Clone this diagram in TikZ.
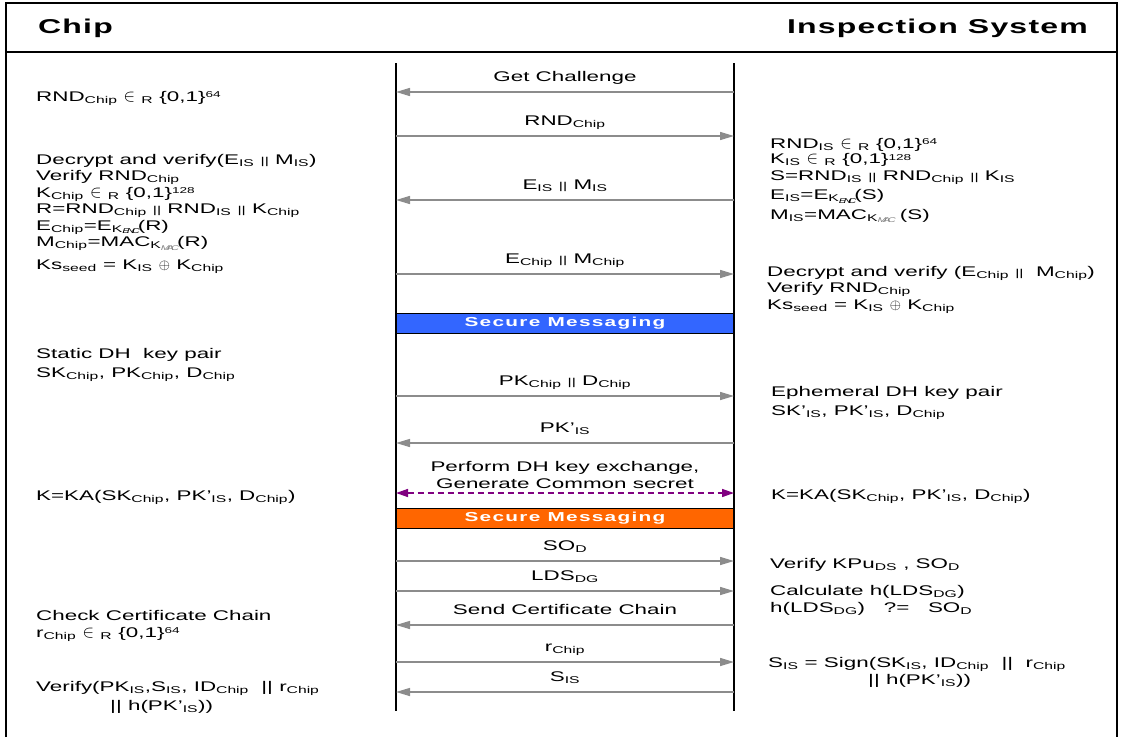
\documentclass[tikz,border=0pt]{standalone}
\usepackage{fontspec}
\setmainfont{Liberation Sans}[FakeStretch=1.6]
\newfontfamily\barfont{Liberation Sans}[FakeStretch=1.6,LetterSpace=10]
\newfontfamily\headfont{Liberation Sans}[FakeStretch=1.6,LetterSpace=6]
\usetikzlibrary{arrows.meta}

\definecolor{msggray}{RGB}{140,140,140}
\definecolor{smblue}{RGB}{51,102,255}
\definecolor{smorange}{RGB}{255,102,0}
\definecolor{dhpurple}{RGB}{128,0,128}

\newcommand{\lo}[1]{\textsubscript{#1}}
\newcommand{\hi}[1]{\raisebox{3.5pt}{\fontsize{8.5}{9}\selectfont #1}}
\newcommand{\cat}{{\fontsize{10}{10}\selectfont ||}}
\newcommand{\inR}{{\fontsize{16}{16}\selectfont$\in$}~\lo{R}}

\tikzset{
  lifeline/.style={line width=2.5pt},
  msg/.style={draw=msggray, line width=1.5pt, -{Triangle[length=14pt,width=8pt]}},
  dh/.style={draw=dhpurple, line width=1.5pt, dashed, dash pattern=on 6pt off 4pt,
    {Triangle[length=12pt,width=8pt]}-{Triangle[length=12pt,width=8pt]}},
  lbl/.style={midway, above=5pt, inner sep=1pt, text height=10pt, text depth=4pt},
  note/.style={anchor=base west, align=left, inner sep=0pt},
  smbar/.style={draw=black, line width=1pt, minimum width=338pt, minimum height=20pt,
    inner sep=0pt, text=white, font={\barfont\fontsize{13}{15}\selectfont\bfseries}},
  header/.style={font={\headfont\fontsize{20}{22}\selectfont\bfseries}, inner sep=0pt}
}

\begin{document}
\begin{tikzpicture}[x=1pt, y=-1pt, font=\fontsize{14}{16.5}\selectfont]
  \useasboundingbox (0,0) rectangle (1123,737);

  % Frame and header
  \draw[line width=2pt] (6,737) -- (6,3) -- (1117,3) -- (1117,737);
  \draw[line width=2pt] (6,52) -- (1117,52);
  \node[header, anchor=west] (chiphd) at (38,28) {Chip};
  \node[header, anchor=east] (ishd) at (1088,28) {Inspection System};

  % Secure messaging bars
  \node[smbar, fill=smblue] (sm1) at (565,323) {Secure Messaging};
  \node[smbar, fill=smorange] (sm2) at (565,518.5) {Secure Messaging};

  % Lifelines
  \coordinate (chiptop) at (396,63);
  \coordinate (chipbot) at (396,711);
  \coordinate (istop) at (734,63);
  \coordinate (isbot) at (734,711);
  \draw[lifeline] (chiptop) -- (chipbot);
  \draw[lifeline] (istop) -- (isbot);

  % Message ends on the lifelines
  \foreach \n/\y in {1/92,2/136,3/200,4/274,5/396,6/443,7/493,8/561,9/591,10/625,11/662,12/692}{
    \coordinate (c\n) at (396,\y);
    \coordinate (i\n) at (734,\y);
  }

  % Messages
  \draw[msg] (i1) -- node[lbl] {Get Challenge} (c1);
  \draw[msg] (c2) -- node[lbl] {RND\lo{Chip}} (i2);
  \draw[msg] (i3) -- node[lbl] {E\lo{IS} \cat{} M\lo{IS}} (c3);
  \draw[msg] (c4) -- node[lbl] {E\lo{Chip} \cat{} M\lo{Chip}} (i4);
  \draw[msg] (c5) -- node[lbl] {PK\lo{Chip} \cat{} D\lo{Chip}} (i5);
  \draw[msg] (i6) -- node[lbl] {PK'\lo{IS}} (c6);
  \draw[dh] (c7) -- node[midway, above=4pt, inner sep=0pt, align=center]
    {Perform DH key exchange,\\Generate Common secret} (i7);
  \draw[msg] (c8) -- node[lbl] {SO\lo{D}} (i8);
  \draw[msg] (c9) -- node[lbl] {LDS\lo{DG}} (i9);
  \draw[msg] (i10) -- node[lbl] {Send Certificate Chain} (c10);
  \draw[msg] (c11) -- node[lbl] {r\lo{Chip}} (i11);
  \draw[msg] (i12) -- node[lbl] {S\lo{IS}} (c12);

  % Chip side (multi-line notes sit on their last line)
  \node[note] (chipa) at (36,101) {RND\lo{Chip} \inR{} \{0,1\}\hi{64}};
  \node[note] (chipb) at (36,269) {Decrypt and verify(E\lo{IS} \cat{} M\lo{IS})\\
    Verify RND\lo{Chip}\\
    K\lo{Chip} \inR{} \{0,1\}\hi{128}\\
    R=RND\lo{Chip} \cat{} RND\lo{IS} \cat{} K\lo{Chip}\\
    E\lo{Chip}=E\lo{K$_{\mathit{ENC}}$}(R)\\
    M\lo{Chip}=MAC\lo{K$_{\color{gray}\mathit{MAC}}$}(R)\\[6pt]
    Ks\lo{seed} = K\lo{IS} $\oplus$ K\lo{Chip}};
  \node[note] (chipc) at (36,377) {Static DH\ \ key pair\\[2pt]
    SK\lo{Chip}, PK\lo{Chip}, D\lo{Chip}};
  \node[note] (chipd) at (36,500) {K=KA(SK\lo{Chip}, PK'\lo{IS}, D\lo{Chip})};
  \node[note] (chipe) at (36,637) {Check Certificate Chain\\
    r\lo{Chip} \inR{} \{0,1\}\hi{64}};
  \node[note] (chipf) at (36,710) {Verify(PK\lo{IS},S\lo{IS}, ID\lo{Chip}\ \ || r\lo{Chip}\\[2pt]
    \hspace*{74pt}|| h(PK'\lo{IS}))};

  % Inspection system side
  \node[note] (isa) at (770,219) {RND\lo{IS} \inR{} \{0,1\}\hi{64}\\[-1pt]
    K\lo{IS} \inR{} \{0,1\}\hi{128}\\
    S=RND\lo{IS} \cat{} RND\lo{Chip} \cat{} K\lo{IS}\\[3pt]
    E\lo{IS}=E\lo{K$_{\mathit{ENC}}$}(S)\\[3pt]
    M\lo{IS}=MAC\lo{K$_{\color{gray}\mathit{MAC}}$} (S)};
  \node[note] (isb) at (767,309) {Decrypt and verify (E\lo{Chip} \cat{}\ \ M\lo{Chip})\\
    Verify RND\lo{Chip}\\
    Ks\lo{seed} = K\lo{IS} $\oplus$ K\lo{Chip}};
  \node[note] (isc) at (771,415) {Ephemeral DH key pair\\[2pt]
    SK'\lo{IS}, PK'\lo{IS}, D\lo{Chip}};
  \node[note] (isd) at (771,499) {K=KA(SK\lo{Chip}, PK'\lo{IS}, D\lo{Chip})};
  \node[note] (ise) at (770,568) {Verify KPu\lo{DS} , SO\lo{D}};
  \node[note] (isf) at (770,612) {Calculate h(LDS\lo{DG})\\
    h(LDS\lo{DG})\ \ \ ?=\ \ \ SO\lo{D}};
  \node[note] (isg) at (768,684) {S\lo{IS} = Sign(SK\lo{IS}, ID\lo{Chip}\ \ ||\ \ r\lo{Chip}\\
    \hspace*{100pt}|| h(PK'\lo{IS}))};
\end{tikzpicture}
\end{document}
